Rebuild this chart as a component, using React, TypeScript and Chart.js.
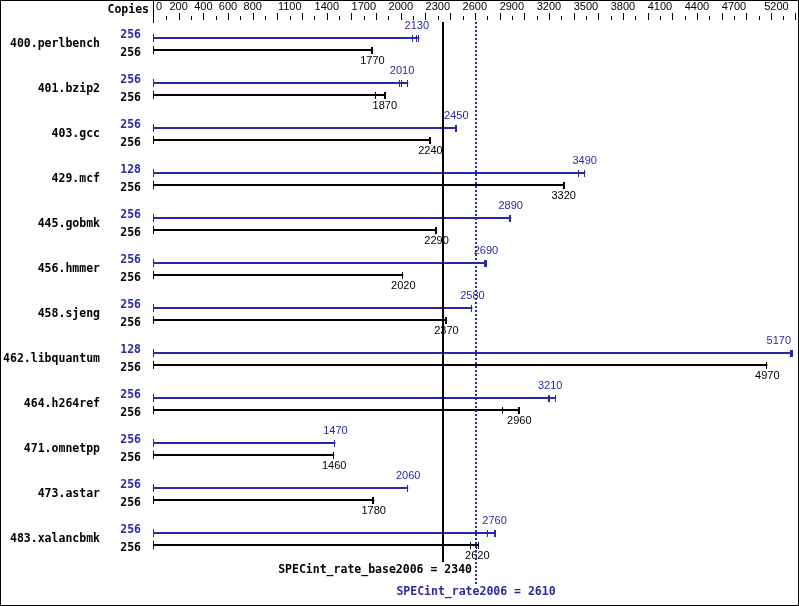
import React, { useEffect, useRef } from "react";
import { Chart, registerables } from "chart.js";

Chart.register(...registerables);

const benchmarks = [
  "400.perlbench", "401.bzip2", "403.gcc", "429.mcf", "445.gobmk", "456.hmmer",
  "458.sjeng", "462.libquantum", "464.h264ref", "471.omnetpp", "473.astar", "483.xalancbmk",
];
const peakCopies = [256, 256, 256, 128, 256, 256, 256, 128, 256, 256, 256, 256];
const baseCopies = [256, 256, 256, 256, 256, 256, 256, 256, 256, 256, 256, 256];
const peakValues = [2130, 2010, 2450, 3490, 2890, 2690, 2580, 5170, 3210, 1470, 2060, 2760];
const baseValues = [1770, 1870, 2240, 3320, 2290, 2020, 2370, 4970, 2960, 1460, 1780, 2620];
const peakRuns = [
  [2100, 2130, 2150], [1995, 2010, 2060], [2450, 2450, 2455], [3440, 3490, 3495],
  [2885, 2890, 2895], [2680, 2690, 2695], [2575, 2580, 2580], [5165, 5170, 5175],
  [3200, 3210, 3255], [1465, 1470, 1470], [2055, 2060, 2060], [2705, 2760, 2770],
];
const baseRuns = [
  [1765, 1770, 1775], [1800, 1870, 1880], [2240, 2240, 2245], [3320, 3320, 3330],
  [2285, 2290, 2290], [2015, 2020, 2020], [2365, 2370, 2375], [4965, 4970, 4970],
  [2825, 2960, 2965], [1455, 1460, 1460], [1775, 1780, 1785], [2570, 2620, 2630],
];
const axisLabels = [0, 200, 400, 600, 800, 1100, 1400, 1700, 2000, 2300, 2600, 2900, 3200, 3500, 3800, 4100, 4400, 4700, 5200];
const axisMax = 5200;
const tickStep = 100;
const baseMean = 2340;
const peakMean = 2610;
const baseCaption = "SPECint_rate_base2006 = " + baseMean;
const peakCaption = "SPECint_rate2006 = " + peakMean;

const BLUE = "#2828a8";
const BLACK = "#000000";
const MONO = "bold 11.5px 'DejaVu Sans Mono', 'Liberation Mono', monospace";
const SANS = "11px 'Liberation Sans', Arial, sans-serif";

const overlay = {
  id: "specOverlay",
  afterDatasetsDraw(chart: any) {
    const ctx: CanvasRenderingContext2D = chart.ctx;
    const xs = chart.scales.x;
    const area = chart.chartArea;
    const W = chart.width;
    const H = chart.height;
    const x0 = Math.round(xs.getPixelForValue(0));
    const rightLimit = W - 8;
    ctx.save();

    // frame
    ctx.strokeStyle = BLACK;
    ctx.lineWidth = 1;
    ctx.strokeRect(0.5, 0.5, W - 1, H - 1);

    // axis line at left of the scale
    ctx.fillStyle = BLACK;
    ctx.fillRect(x0 - 1, 0, 1, Math.round(area.top) + 1);

    // header
    ctx.font = MONO;
    ctx.textAlign = "right";
    ctx.textBaseline = "middle";
    ctx.fillText("Copies", x0 - 5, 10);

    // axis ticks
    for (let v = tickStep; v <= axisMax; v += tickStep) {
      const px = Math.round(xs.getPixelForValue(v));
      const long = v % 200 === 0;
      ctx.fillRect(px - (v === axisMax ? 1 : 0), long ? 13 : 16, 1, long ? 7 : 4);
    }
    // axis labels
    ctx.font = SANS;
    ctx.textBaseline = "middle";
    axisLabels.forEach((v) => {
      const px = xs.getPixelForValue(v);
      if (v === 0) {
        ctx.textAlign = "left";
        ctx.fillText(String(v), px + 2, 7);
      } else if (v === axisMax) {
        ctx.textAlign = "right";
        ctx.fillText(String(v), px - 7, 7);
      } else {
        ctx.textAlign = "center";
        ctx.fillText(String(v), px, 7);
      }
    });

    const metaPeak = chart.getDatasetMeta(0);
    const metaBase = chart.getDatasetMeta(1);

    const valueLabel = (text: string, x: number, y: number) => {
      const w = ctx.measureText(text).width;
      let cx = x;
      if (cx + w / 2 > rightLimit) cx = rightLimit - w / 2;
      ctx.textAlign = "center";
      ctx.fillText(text, cx, y);
    };

    benchmarks.forEach((name, i) => {
      const yp = Math.round(metaPeak.data[i].y);
      const yb = Math.round(metaBase.data[i].y);
      const yc = (yp + yb) / 2;

      // benchmark name
      ctx.font = MONO;
      ctx.textAlign = "right";
      ctx.textBaseline = "middle";
      ctx.fillStyle = BLACK;
      ctx.fillText(name, 100, yc);
      // copies
      ctx.fillStyle = BLUE;
      ctx.fillText(String(peakCopies[i]), 141, yp - 3);
      ctx.fillStyle = BLACK;
      ctx.fillText(String(baseCopies[i]), 141, yb + 3);

      // start ticks
      ctx.fillStyle = BLUE;
      ctx.fillRect(x0 - 1, yp - 4, 1, 8);
      ctx.fillStyle = BLACK;
      ctx.fillRect(x0 - 1, yb - 4, 1, 8);

      // run ticks
      ctx.fillStyle = BLUE;
      peakRuns[i].forEach((r) => {
        const px = Math.round(xs.getPixelForValue(r));
        ctx.fillRect(px - 1, yp - 3, 1, 7);
      });
      ctx.fillStyle = BLACK;
      baseRuns[i].forEach((r) => {
        const px = Math.round(xs.getPixelForValue(r));
        ctx.fillRect(px - 1, yb - 3, 1, 7);
      });

      // value labels
      ctx.font = SANS;
      ctx.fillStyle = BLUE;
      valueLabel(String(peakValues[i]), xs.getPixelForValue(peakValues[i]), yp - 12);
      ctx.fillStyle = BLACK;
      valueLabel(String(baseValues[i]), xs.getPixelForValue(baseValues[i]), yb + 11);
    });

    // mean lines
    const bx = Math.round(xs.getPixelForValue(baseMean));
    const px = Math.round(xs.getPixelForValue(peakMean));
    const top = Math.round(area.top);
    ctx.fillStyle = BLACK;
    ctx.fillRect(bx - 1, top, 2, Math.round(area.bottom) - top);
    ctx.fillStyle = BLUE;
    for (let y = top; y < 584; y += 4) {
      ctx.fillRect(px - 1, y, 2, 2);
    }

    // captions
    ctx.font = MONO;
    ctx.textBaseline = "middle";
    ctx.fillStyle = BLACK;
    ctx.textAlign = "right";
    ctx.fillText(baseCaption, bx + 29, 570);
    ctx.fillStyle = BLUE;
    ctx.textAlign = "center";
    ctx.fillText(peakCaption, px, 592);

    ctx.restore();
  },
};

export default function App() {
  const ref = useRef<HTMLCanvasElement>(null);
  useEffect(() => {
    document.body.style.margin = "0";
    const chart = new Chart(ref.current as HTMLCanvasElement, {
      type: "bar",
      data: {
        labels: benchmarks,
        datasets: [
          {
            label: "peak",
            data: peakRuns.map((r) => Math.max(...r)),
            backgroundColor: BLUE,
            borderWidth: 0,
            inflateAmount: 0,
            categoryPercentage: 24 / 45,
            barPercentage: 2 / 12,
          },
          {
            label: "base",
            data: baseRuns.map((r) => Math.max(...r)),
            backgroundColor: BLACK,
            borderWidth: 0,
            inflateAmount: 0,
            categoryPercentage: 24 / 45,
            barPercentage: 2 / 12,
          },
        ],
      } as any,
      options: {
        indexAxis: "y",
        responsive: false,
        animation: false,
        devicePixelRatio: 1,
        layout: { padding: { left: 154, right: 3.3, top: 21.5, bottom: 44.5 } },
        scales: {
          x: { type: "linear", min: 0, max: axisMax, display: false },
          y: { type: "category", display: false },
        },
        plugins: { legend: { display: false }, tooltip: { enabled: false } },
      } as any,
      plugins: [overlay],
    });
    return () => chart.destroy();
  }, []);
  return (
    <div style={{ position: "absolute", left: 0, top: 0, width: 799, height: 606, background: "#fff" }}>
      <canvas ref={ref} width={799} height={606} style={{ display: "block", width: 799, height: 606 }} />
    </div>
  );
}
